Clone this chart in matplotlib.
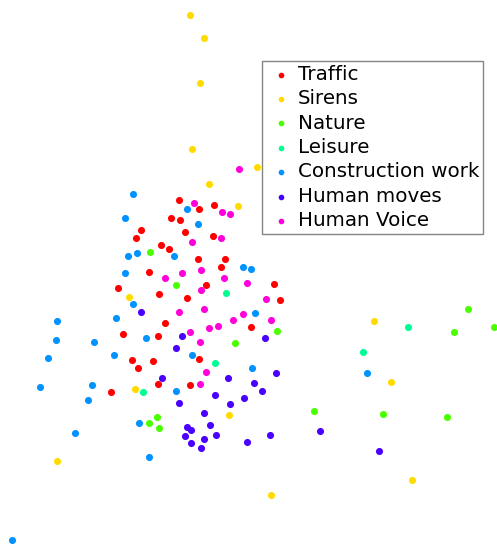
import colorsys
import numpy as np
import matplotlib
matplotlib.use("Agg")
import matplotlib.pyplot as plt

labels = ["Traffic", "Sirens", "Nature", "Leisure", "Construction work",
          "Human moves", "Human Voice"]

# embedding coordinates (y grows downward)
traffic_x = [179, 199, 214, 171, 180, 141, 136, 185, 213, 161, 169, 198, 225, 221, 149, 274,
             280, 118, 206, 159, 187, 165, 251, 123, 158, 132, 153, 199, 138, 111, 158, 190]
traffic_y = [200, 209, 205, 218, 220, 230, 238, 232, 236, 245, 249, 259, 259, 267, 272, 284,
             300, 288, 285, 294, 298, 323, 327, 334, 336, 360, 361, 359, 368, 392, 384, 385]

sirens_x = [190, 204, 200, 192, 257, 209, 238, 129, 135, 229, 57, 271, 374, 391, 412]
sirens_y = [15, 38, 83, 149, 167, 184, 206, 297, 389, 415, 461, 495, 321, 382, 480]

nature_x = [150, 176, 277, 235, 149, 157, 159, 468, 454, 494, 314, 383, 447]
nature_y = [252, 285, 331, 343, 423, 417, 428, 309, 332, 327, 411, 414, 417]

leisure_x = [226, 215, 143, 408, 363]
leisure_y = [293, 363, 392, 327, 352]

construction_x = [133, 187, 125, 198, 137, 128, 174, 243, 251, 125, 133, 57, 116, 255, 56,
                  94, 146, 48, 114, 192, 252, 40, 92, 176, 88, 139, 75, 149, 367, 12]
construction_y = [194, 209, 218, 224, 253, 256, 256, 267, 269, 273, 304, 321, 318, 313, 340,
                  342, 338, 358, 355, 355, 368, 387, 385, 391, 400, 423, 433, 457, 373, 540]

moves_x = [141, 182, 265, 176, 276, 162, 228, 254, 262, 179, 215, 244, 230, 204, 187, 191,
           210, 185, 204, 216, 191, 201, 247, 270, 320, 379]
moves_y = [312, 336, 338, 348, 373, 378, 378, 383, 391, 403, 395, 398, 404, 413, 427, 430,
           425, 436, 439, 435, 443, 448, 442, 435, 431, 451]

voice_x = [239, 194, 222, 230, 221, 192, 201, 182, 165, 224, 247, 266, 201, 179, 204, 243,
           233, 271, 218, 209, 190, 200, 206, 200]
voice_y = [169, 203, 212, 214, 238, 242, 270, 273, 278, 278, 283, 299, 290, 312, 309, 314,
           320, 320, 326, 328, 332, 342, 372, 384]

series = [
    (traffic_x, traffic_y),
    (sirens_x, sirens_y),
    (nature_x, nature_y),
    (leisure_x, leisure_y),
    (construction_x, construction_y),
    (moves_x, moves_y),
    (voice_x, voice_y),
]

colors = [colorsys.hsv_to_rgb(i / 7.0, 1.0, 1.0) for i in range(7)]

fig = plt.figure(figsize=(4.97, 5.44), dpi=100)
ax = fig.add_axes([0, 0, 1, 1])
for (xs, ys), lab, col in zip(series, labels, colors):
    ax.scatter(xs, ys, s=26, color=col, label=lab, linewidths=0)

ax.set_xlim(0, 497)
ax.set_ylim(544, 0)
ax.axis("off")

leg = ax.legend(loc="upper right", bbox_to_anchor=(483 / 497, 1 - 61 / 544),
                bbox_transform=ax.transAxes, borderaxespad=0, fontsize=14.3,
                fancybox=False, frameon=True, edgecolor="#666666",
                labelspacing=0.27, borderpad=0.2, handlelength=1.5,
                handletextpad=0.1, markerscale=0.8)
leg.get_frame().set_linewidth(1.0)

fig.savefig("out.png", dpi=100)
